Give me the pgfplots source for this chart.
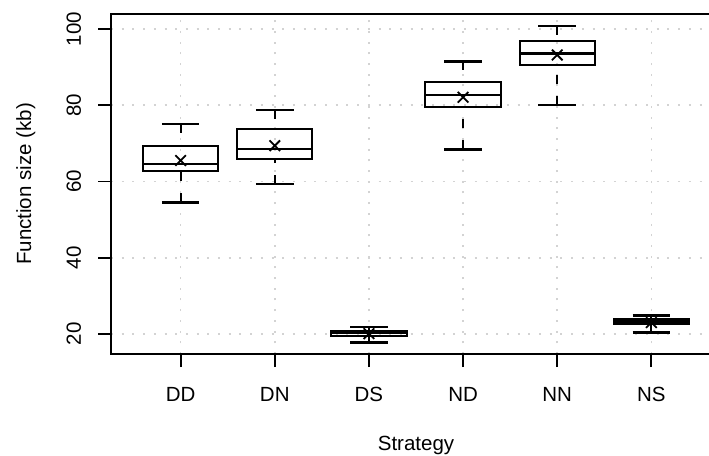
\documentclass[border=0pt]{standalone}
\usepackage{fontspec}
\setmainfont{Liberation Sans}
\usepackage{pgfplots}
\pgfplotsset{compat=1.18}
\usepgfplotslibrary{statistics}
\definecolor{lgray}{RGB}{211,211,211}
\pgfplotsset{
  boxplot/draw/lower whisker/.code={%
    \draw[/pgfplots/boxplot/every whisker/.try]
      (boxplot cs:\pgfplotsboxplotvalue{lower whisker}) --
      (boxplot cs:\pgfplotsboxplotvalue{lower quartile});
    \draw[line width=2.4bp, solid]
      (boxplot whisker cs:\pgfplotsboxplotvalue{lower whisker},0) --
      (boxplot whisker cs:\pgfplotsboxplotvalue{lower whisker},1);
  },
  boxplot/draw/upper whisker/.code={%
    \draw[/pgfplots/boxplot/every whisker/.try]
      (boxplot cs:\pgfplotsboxplotvalue{upper whisker}) --
      (boxplot cs:\pgfplotsboxplotvalue{upper quartile});
    \draw[line width=2.4bp, solid]
      (boxplot whisker cs:\pgfplotsboxplotvalue{upper whisker},0) --
      (boxplot whisker cs:\pgfplotsboxplotvalue{upper whisker},1);
  },
}
\begin{document}
\begin{tikzpicture}
\begin{axis}[
  at={(111bp,102bp)}, anchor=south west,
  scale only axis, width=610bp, height=340bp,
  xmin=0.26, xmax=6.74, ymin=14.75, ymax=103.95,
  xtick={1,2,3,4,5,6}, xticklabels={DD,DN,DS,ND,NN,NS},
  ytick={20,40,60,80,100},
  xtick pos=lower, ytick pos=left,
  tick align=outside, major tick length=13bp,
  tick style={black, line width=1.7bp},
  axis line style={line width=1.7bp},
  /pgf/number format/assume math mode=true,
  ticklabel style={font=\fontsize{20.5bp}{24bp}\selectfont, inner sep=0pt},
  xticklabel style={anchor=base},
  yticklabel style={rotate=90, anchor=base},
  xticklabel shift=34.7bp,
  yticklabel shift=17bp,
  xmajorgrids, ymajorgrids,
  grid style={lgray, line width=1.6bp, dash pattern=on 2bp off 8.7bp},
  xlabel={Strategy}, ylabel={Function size (kb)},
  label style={font=\fontsize{20.5bp}{24bp}\selectfont},
  x label style={at={(axis description cs:0.5,-0.2824)}, anchor=base},
  y label style={at={(axis description cs:-0.1311,0.5)}, anchor=base, rotate=0},
  boxplot/draw direction=y,
  boxplot/box extend=0.8, boxplot/whisker extend=0.4,
  boxplot/every whisker/.style={line width=1.8bp, dash pattern=on 9bp off 12bp},
  boxplot/every box/.style={line width=2bp, draw=black},
  boxplot/every median/.style={line width=2.2bp},
]
\addplot+[black, solid, line width=2bp, boxplot prepared={lower whisker=54.5, lower quartile=62.8, median=64.5, upper quartile=69.3, upper whisker=75.1, draw position=1}] coordinates {};
\addplot+[black, solid, line width=2bp, boxplot prepared={lower whisker=59.3, lower quartile=66.0, median=68.6, upper quartile=73.8, upper whisker=78.75, draw position=2}] coordinates {};
\addplot+[black, solid, line width=2bp, boxplot prepared={lower whisker=17.8, lower quartile=19.4, median=20.3, upper quartile=20.9, upper whisker=21.8, draw position=3}] coordinates {};
\addplot+[black, solid, line width=2bp, boxplot prepared={lower whisker=68.45, lower quartile=79.6, median=82.6, upper quartile=86.1, upper whisker=91.5, draw position=4}] coordinates {};
\addplot+[black, solid, line width=2bp, boxplot prepared={lower whisker=80.0, lower quartile=90.6, median=93.6, upper quartile=96.9, upper whisker=100.8, draw position=5}] coordinates {};
\addplot+[black, solid, line width=2bp, boxplot prepared={lower whisker=20.4, lower quartile=22.5, median=23.3, upper quartile=24.0, upper whisker=24.8, draw position=6}] coordinates {};
\addplot[only marks, mark=x, mark size=7.5bp, mark options={line width=1.8bp, black}] coordinates {
  (1,65.5) (2,69.4) (3,20.1) (4,82.1) (5,93.2) (6,23.0)
};
\end{axis}
\pgfresetboundingbox
\path (0,0) rectangle (709bp,456bp);
\end{tikzpicture}
\end{document}
